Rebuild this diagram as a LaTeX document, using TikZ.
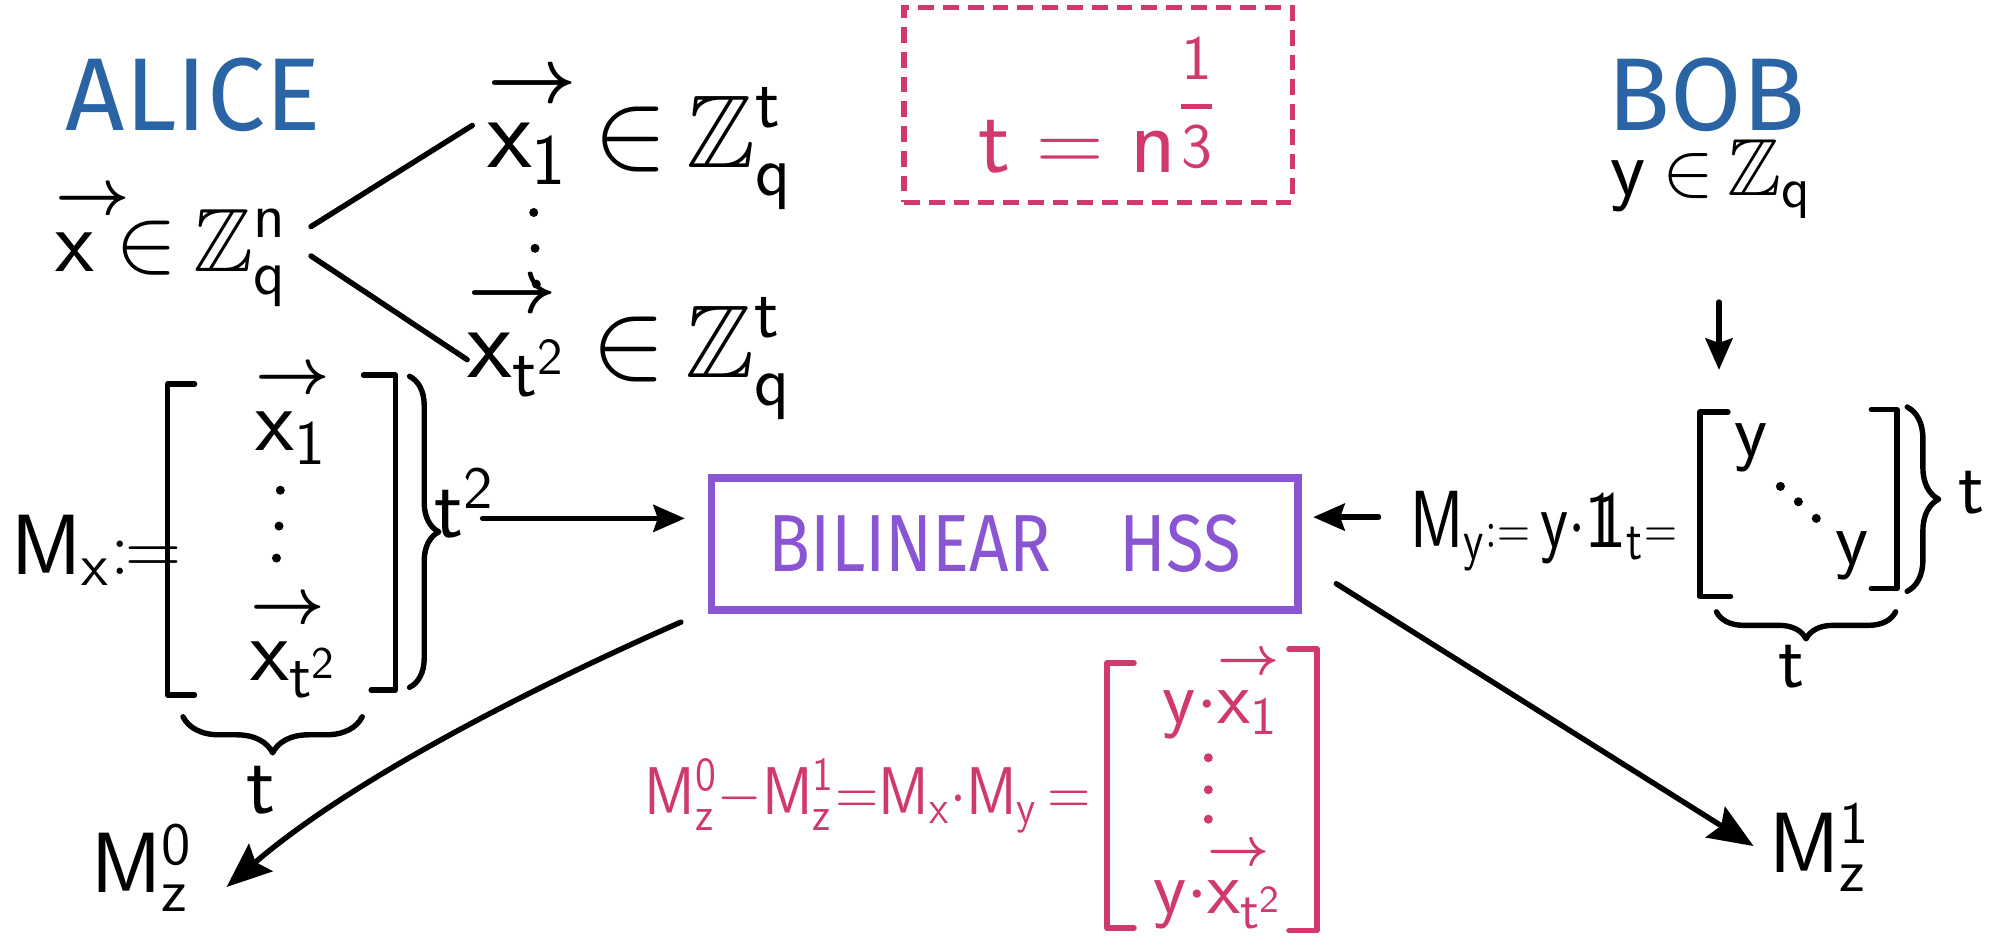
\documentclass[tikz,border=0pt]{standalone}
\usepackage{amsmath,amssymb}
\usepackage{fontspec}
\newfontfamily\handfont{Fira Sans}
\usetikzlibrary{arrows.meta,decorations.pathreplacing}
\definecolor{magn}{HTML}{D03A6B}
\definecolor{bblue}{HTML}{2A64A4}
\definecolor{purp}{HTML}{8A55D2}
\newcommand\sff[1]{\mathsf{#1}}
\newcommand\myvx{\mathord{\rlap{$\overset{\boldsymbol{\rightarrow}}{\phantom{\mathsf{x}}}$}\mathsf{x}}}
\newcommand\myone{\mathsf{1}\mkern-6mu\mathsf{1}}
\newcommand\myin{\mkern4mu{\in}\mkern3mu}
\begin{document}
\begin{tikzpicture}[x=0.01cm,y=-0.01cm,
  ln/.style={line width=1.2pt,line cap=round,line join=round},
  arr/.style={ln,-{Stealth[length=7pt,width=6pt,inset=1pt]}},
  bigarr/.style={ln,-{Stealth[length=10pt,width=8pt,inset=1.5pt]}},
  ms/.style={inner sep=0pt,font=\fontsize{#1}{#1}\selectfont},
  who/.style={inner sep=0pt,text=bblue,font=\handfont\fontsize{23}{27}\selectfont},
  mybrace/.style={ln,decorate,decoration={brace,amplitude=#1}}]
\useasboundingbox (0,0) rectangle (1568,733);

% names
\node[who] (alice) at (151,74) {ALICE};
\node[who] (bob) at (1333,74) {BOB};
\node[ms=18] (yq) at (1337,140) {$\sff{y}\myin\mathbb{Z}_{\sff{q}}$};

% t = n^{1/3}
\node[draw=magn,line width=1.2pt,dash pattern=on 3.5pt off 2pt,minimum width=3.03cm,minimum height=1.52cm,inner sep=0pt,text=magn,font=\fontsize{21}{21}\selectfont] (tbox) at (858,82) {$\sff{t}=\sff{n}$\raisebox{11pt}{\fontsize{14}{14}\selectfont$\genfrac{}{}{1.1pt}{0}{\sff{1}}{\sff{3}}$}};

% Alice's vectors
\node[ms=20] (x) at (134,190) {$\myvx\myin\mathbb{Z}_{\sff{q}}^{\sff{n}}$};
\node[ms=23] (x1) at (500,106) {$\myvx_{\sff{1}}\myin\mathbb{Z}_{\sff{q}}^{\sff{t}}$};
\node[ms=23] (xt2) at (492,270) {$\myvx_{\sff{t}^{\sff{2}}}\myin\mathbb{Z}_{\sff{q}}^{\sff{t}}$};
\coordinate (l1a) at (243,177); \coordinate (l1b) at (369,98);
\coordinate (l2a) at (243,200); \coordinate (l2b) at (365,281);
\draw[ln] (l1a) -- (l1b);
\draw[ln] (l2a) -- (l2b);
\fill (417,166) circle (1pt); \fill (418,194) circle (1pt); \fill (419,222) circle (1pt);

% M_x
\node[ms=19,anchor=west] (mx) at (8,430) {$\sff{M}_{\sff{x}}{:}\mkern-1mu{=}$};
\draw[ln] (152,300) -- (131,300) -- (131,543) -- (152,543);
\draw[ln] (284,293) -- (309,293) -- (309,539) -- (290,539);
\node[ms=20] (r1) at (228,322) {$\myvx_{\sff{1}}$};
\node[ms=20] (rt) at (230,503) {$\myvx_{\sff{t}^{\sff{2}}}$};
\fill (219,383) circle (1pt); \fill (218,411) circle (1pt); \fill (216,436) circle (1pt);
\draw[mybrace=6.5pt] (320,294) -- (320,537);
\node[ms=19] (t2) at (363,393) {$\sff{t}^{\sff{2}}$};
\draw[mybrace=8pt] (283,560) -- (143,560);
\node[ms=19] (tb) at (204,617) {$\sff{t}$};

% HSS box
\node[draw=purp,line width=1.6pt,minimum width=4.58cm,minimum height=1.03cm,inner sep=0pt,text=purp,font=\handfont\fontsize{18}{22}\selectfont] (hss) at (785,425) {\scalebox{0.85}[1]{BILINEAR\quad HSS}};

\coordinate (a1s) at (377,405);
\draw[arr,shorten >=0.18cm] (a1s) -- (a1s -| hss.west);
\coordinate (a2s) at (1077,404);
\draw[arr,shorten >=0.09cm] (a2s) -- (a2s -| hss.east);

% M_y
\node[ms=18] (my) at (1206,415) {\scalebox{0.8}[1]{$\sff{M}_{\sff{y}}{\scriptstyle:=}\,\sff{y}{\cdot}\myone_{\sff{t}}{\scriptstyle=}$}};
\draw[ln] (1350,322) -- (1328,322) -- (1328,466) -- (1352,466);
\draw[ln] (1462,320) -- (1482,320) -- (1482,460) -- (1462,460);
\node[ms=17] (ya) at (1368,350) {$\sff{y}$};
\node[ms=17] (yb) at (1447,434) {$\sff{y}$};
\fill (1391,380) circle (1pt); \fill (1405,392) circle (1pt); \fill (1419,405) circle (1pt);
\draw[mybrace=7pt] (1490,318) -- (1490,462);
\node[ms=17] (tr) at (1540,385) {$\sff{t}$};
\draw[mybrace=6pt] (1481,478) -- (1341,478);
\node[ms=17] (tbb) at (1400,521) {$\sff{t}$};

\coordinate (dA) at (1343,236); \coordinate (dB) at (1343,289);
\draw[arr] (dA) -- (dB);

% outputs
\node[ms=19] (mz0) at (111,678) {$\sff{M}_{\sff{z}}^{\sff{0}}$};
\node[ms=19] (mz1) at (1422,662) {$\sff{M}_{\sff{z}}^{\sff{1}}$};
\coordinate (c0s) at (532,486); \coordinate (c0e) at (177,693);
\draw[bigarr] (c0s) .. controls (450,522) and (285,600) .. (c0e);
\coordinate (c1s) at (1044,456); \coordinate (c1e) at (1370,661);
\draw[bigarr] (c1s) -- (c1e);

% magenta equation
\begin{scope}[magn]
\node[ms=15,text=magn] (eq) at (678,622) {\scalebox{0.88}[1]{$\sff{M}_{\sff{z}}^{\sff{0}}{-}\sff{M}_{\sff{z}}^{\sff{1}}{=}\sff{M}_{\sff{x}}{\cdot}\sff{M}_{\sff{y}}\,{=}$}};
\draw[ln] (886,518) -- (865,518) -- (865,725) -- (886,725);
\draw[ln] (1007,507) -- (1029,507) -- (1029,727) -- (1007,727);
\node[ms=17,text=magn] (e1) at (954,541) {$\sff{y}{\cdot}\myvx_{\sff{1}}$};
\node[ms=17,text=magn] (e2) at (952,690) {$\sff{y}{\cdot}\myvx_{\sff{t}^{\sff{2}}}$};
\fill (944,592) circle (1pt); \fill (944,617) circle (1pt); \fill (944,640) circle (1pt);
\end{scope}
\end{tikzpicture}
\end{document}
